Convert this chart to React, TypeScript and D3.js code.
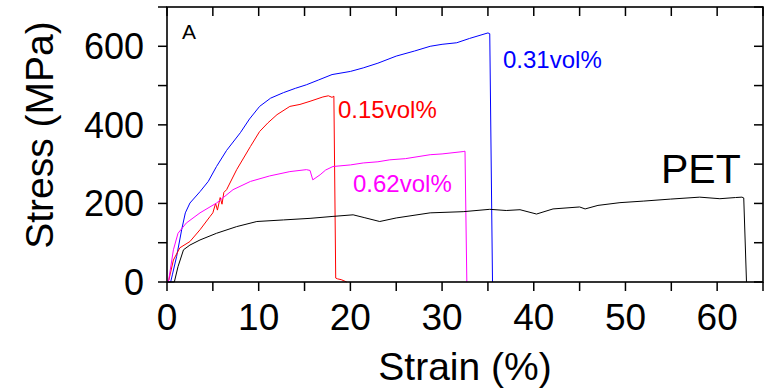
import React from "react";
import * as d3 from "d3";

const xTicks = [0, 10, 20, 30, 40, 50, 60];
const xMinor = [5, 15, 25, 35, 45, 55, 65];
const yTicks = [0, 200, 400, 600];
const yMinor = [100, 300, 500, 700];

const blue: [number, number][] = [[0,0],[0.4,0],[0.6,20],[1.05,65],[1.6,133],[2.0,176],[2.5,201],[3.6,230],[4.5,256],[5.4,294],[6.5,335],[8.0,380],[9.0,415],[10.1,447],[11.3,468],[12.7,482],[14.0,493],[15.2,502],[16.5,514],[18.0,528],[20,536],[21.4,545],[23,557],[25,575],[27,588],[28.7,600],[30,605],[31.6,609],[33,620],[35.0,634],[35.2,632],[35.5,0]];
const red: [number, number][] = [[0,0],[0.2,5],[0.7,56],[1.4,87],[2.5,103],[3.6,133],[4.7,167],[5.0,176],[5.3,200],[5.5,183],[5.8,215],[6.0,198],[6.2,228],[6.5,235],[7.6,286],[9.1,345],[10.1,383],[11,405],[12.0,426],[13.4,447],[14.5,452],[15.6,460],[17.0,471],[17.6,474],[18.0,470],[18.2,473],[18.4,10],[18.6,8],[19.0,6],[19.3,3],[19.6,0]];
const magenta: [number, number][] = [[0,0],[0.15,0],[0.7,82],[1.2,124],[2.1,150],[3.6,176],[5.4,201],[7.2,235],[9.1,256],[11.2,270],[13.4,281],[15.2,286],[15.6,284],[15.9,260],[16.7,273],[17.3,285],[18.1,294],[20,298],[21.4,303],[23,306],[24.3,311],[26,314],[28.7,324],[30,326],[32.3,332],[32.5,333],[32.7,0]];
const pet: [number, number][] = [[0,0],[0.8,0],[1.2,39],[1.8,82],[2.5,94],[3.6,107],[5.4,124],[7.6,141],[9.8,154],[12.7,158],[15.6,162],[18.1,167],[20.3,171],[21.5,164],[23.2,154],[25.0,163],[28.7,176],[32.3,179],[35.2,185],[37,182],[38.5,184],[40.3,173],[42.1,186],[45,191],[45.6,186],[47,195],[49.4,202],[52,206],[54.9,211],[58.1,216],[60.3,212],[62.0,215],[62.7,216],[62.9,214],[63.2,0]];

const series = [
  { name: "0.31vol%", data: blue, color: "#0000ff" },
  { name: "0.15vol%", data: red, color: "#ff0000" },
  { name: "0.62vol%", data: magenta, color: "#ff00ff" },
  { name: "PET", data: pet, color: "#000000" },
];

export default function App() {
  const left = 167, right = 763, top = 7, bottom = 282;
  const x = d3.scaleLinear().domain([0, 65]).range([left, right]);
  const y = d3.scaleLinear().domain([0, 700]).range([bottom, top]);
  const line = d3.line<[number, number]>().x(d => x(d[0])).y(d => y(d[1]));
  const font = "'Liberation Sans', Arial, sans-serif";
  const tl = 9;
  return (
    <svg width={764} height={392} style={{ position: "absolute", left: 0, top: 0 }} fontFamily={font}>
      <rect width={764} height={392} fill="#fff" />
      {series.map(s => (
        <path key={s.name} d={line(s.data) || ""} fill="none" stroke={s.color} strokeWidth={1} />
      ))}
      <rect x={left} y={top} width={right - left} height={bottom - top} fill="none" stroke="#000" strokeWidth={1.6} />
      {[...xTicks, ...xMinor].map(t => (
        <g key={"x" + t}>
          <line x1={x(t)} x2={x(t)} y1={bottom} y2={bottom + tl} stroke="#000" strokeWidth={1.5} />
          <line x1={x(t)} x2={x(t)} y1={top} y2={top + tl} stroke="#000" strokeWidth={1.5} />
        </g>
      ))}
      {[...yTicks, ...yMinor].map(t => (
        <g key={"y" + t}>
          <line x1={left - tl} x2={left} y1={y(t)} y2={y(t)} stroke="#000" strokeWidth={1.5} />
          <line x1={right - tl} x2={right} y1={y(t)} y2={y(t)} stroke="#000" strokeWidth={1.5} />
        </g>
      ))}
      {xTicks.map(t => (
        <text key={"xl" + t} x={x(t)} y={330} fontSize={37} textAnchor="middle">{t}</text>
      ))}
      {yTicks.map(t => (
        <text key={"yl" + t} x={144} y={y(t) + 13} fontSize={36} textAnchor="end">{t}</text>
      ))}
      <text x={465} y={380} fontSize={39} textAnchor="middle">Strain (%)</text>
      <text transform="translate(53,135) rotate(-90)" fontSize={39} textAnchor="middle">Stress (MPa)</text>
      <text x={182} y={39} fontSize={21}>A</text>
      <text x={503} y={68} fontSize={24} fill="#0000ff">0.31vol%</text>
      <text x={338} y={118} fontSize={24} fill="#ff0000">0.15vol%</text>
      <text x={353} y={192} fontSize={24} fill="#ff00ff">0.62vol%</text>
      <text x={661} y={183} fontSize={41} fill="#000">PET</text>
    </svg>
  );
}
